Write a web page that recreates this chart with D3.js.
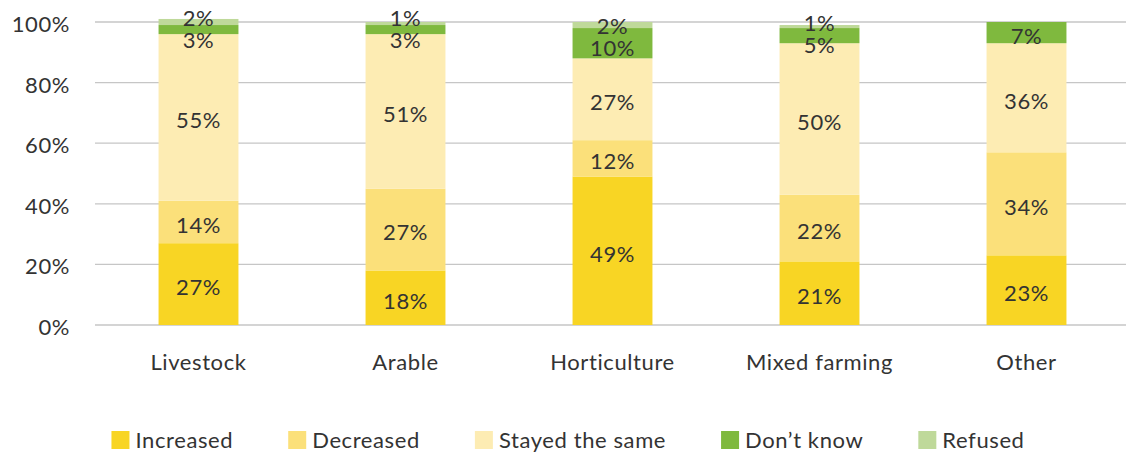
<!DOCTYPE html>
<html>
<head>
<meta charset="utf-8">
<script src="https://cdn.jsdelivr.net/npm/d3@7"></script>
<style>
  html, body { margin: 0; padding: 0; background: #fff; }
  svg text { font-family: Lato, "Open Sans", sans-serif; font-weight: 400; letter-spacing: 0.6px; fill: #333; }
</style>
</head>
<body>
<svg id="chart" width="1126" height="455"></svg>
<script>
// Farm types on the x axis
const categories = ["Livestock", "Arable", "Horticulture", "Mixed farming", "Other"];
// Response series, stacked bottom to top
const seriesNames = ["Increased", "Decreased", "Stayed the same", "Don\u2019t know", "Refused"];
const increased = [27, 18, 49, 21, 23];
const decreased = [14, 27, 12, 22, 34];
const stayedSame = [55, 51, 27, 50, 36];
const dontKnow = [3, 3, 10, 5, 7];
const refused = [2, 1, 2, 1, 0];
const colors = ["#f8d524", "#fbe07a", "#fdecb3", "#7fb93e", "#bfd99a"];
const yTicks = [0, 20, 40, 60, 80, 100];

const seriesValues = [increased, decreased, stayedSame, dontKnow, refused];
const rows = categories.map((c, i) => {
  const r = { category: c };
  seriesNames.forEach((s, k) => { r[s] = seriesValues[k][i]; });
  return r;
});

const svg = d3.select("#chart");
const x = d3.scaleBand().domain(categories).range([95, 1130]).paddingInner(0.614).paddingOuter(0.307);
const y = d3.scaleLinear().domain([0, 100]).range([325, 22]);

// Horizontal gridlines and tick labels
svg.append("g").selectAll("line").data(yTicks).join("line")
  .attr("x1", 95).attr("x2", 1126)
  .attr("y1", d => y(d)).attr("y2", d => y(d))
  .attr("stroke", "#c6c6c6").attr("stroke-width", 1.3);
svg.append("g").selectAll("text").data(yTicks).join("text")
  .attr("x", 70).attr("y", d => y(d) + 10)
  .attr("text-anchor", "end").attr("font-size", 22)
  .text(d => d + "%");

// Stacked bars
const stacked = d3.stack().keys(seriesNames)(rows);
const layers = svg.append("g").selectAll("g").data(stacked).join("g")
  .attr("fill", (d, i) => colors[i]);
layers.selectAll("rect").data(d => d.filter(p => p[1] - p[0] > 0)).join("rect")
  .attr("x", d => x(d.data.category))
  .attr("width", x.bandwidth())
  .attr("y", d => y(d[1]))
  .attr("height", d => y(d[0]) - y(d[1]));

// Value labels, centered in each segment and spread apart where they collide
const minGap = 22;
categories.forEach(cat => {
  const labels = [];
  stacked.forEach(layer => {
    const p = layer.find(q => q.data.category === cat);
    const v = p[1] - p[0];
    if (v > 0) labels.push({ v, pos: (y(p[0]) + y(p[1])) / 2 + 3 });
  });
  // labels run bottom to top (descending pixel y); push overlapping neighbours apart
  for (let iter = 0; iter < 10; iter++) {
    for (let i = 0; i < labels.length - 1; i++) {
      const a = labels[i], b = labels[i + 1];
      const gap = a.pos - b.pos;
      if (gap < minGap) {
        const shift = (minGap - gap) / 2;
        a.pos += shift; b.pos -= shift;
      }
    }
  }
  svg.append("g").selectAll("text").data(labels).join("text")
    .attr("x", x(cat) + x.bandwidth() / 2)
    .attr("y", d => d.pos)
    .attr("dy", "0.36em")
    .attr("text-anchor", "middle").attr("font-size", 22)
    .text(d => d.v + "%");
});

// Category labels
svg.append("g").selectAll("text").data(categories).join("text")
  .attr("x", d => x(d) + x.bandwidth() / 2).attr("y", 370)
  .attr("text-anchor", "middle").attr("font-size", 22)
  .text(d => d);

// Legend, laid out from measured text widths and centered
const legendGap = 55;
const legend = svg.append("g");
const items = legend.selectAll("g").data(seriesNames).join("g");
items.append("rect").attr("width", 18).attr("height", 18).attr("y", 431)
  .attr("fill", (d, i) => colors[i]);
items.append("text").attr("x", 24).attr("y", 448).attr("font-size", 22).text(d => d);
let cursor = 0;
const offsets = [];
items.each(function () {
  const w = d3.select(this).select("text").node().getComputedTextLength();
  offsets.push(cursor);
  cursor += 24 + w + legendGap;
});
const total = cursor - legendGap;
const start = 568 - total / 2;
items.attr("transform", (d, i) => `translate(${start + offsets[i]},0)`);
</script>
</body>
</html>
